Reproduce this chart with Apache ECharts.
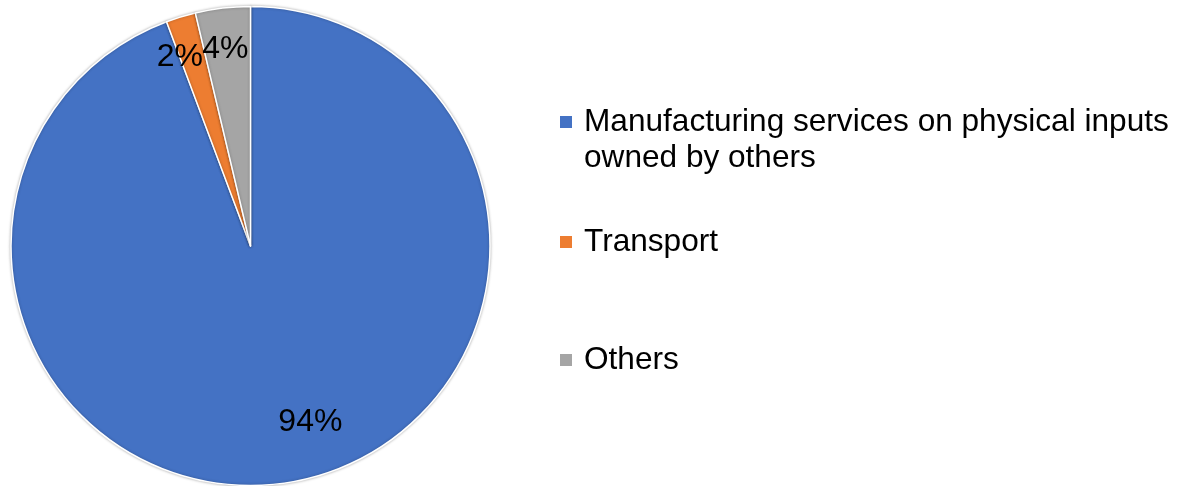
<!DOCTYPE html>
<html>
<head>
<meta charset="utf-8">
<script src="https://cdn.jsdelivr.net/npm/echarts@6/dist/echarts.min.js"></script>
<style>html,body{margin:0;padding:0;background:#fff;}#c{width:1178px;height:486px;}</style>
</head>
<body>
<div id="c"></div>
<script>
const categories = ['Manufacturing services on physical inputs owned by others', 'Transport', 'Others'];
const shares = [94.3, 2.0, 3.7];
const colors = ['#4472C4', '#ED7D31', '#A5A5A5'];
const labelShift = [[38, 55], [-35, -71], [-11, -75]];

const chart = echarts.init(document.getElementById('c'), null, {renderer: 'canvas'});
const legendTops = [68, 224, 342];
const legends = categories.map((name, i) => ({
  orient: 'vertical',
  left: 560,
  top: legendTops[i],
  padding: 0,
  itemWidth: 12,
  itemHeight: 12,
  icon: 'rect',
  itemStyle: {borderWidth: 0, shadowBlur: 0},
  data: [{name: name}],
  formatter: n => (i === 0 ? '\n' : '') + n.replace(' owned', '\nowned'),
  textStyle: {
    fontFamily: 'Liberation Sans, Arial, sans-serif',
    fontSize: 31.6,
    color: '#000',
    lineHeight: 36,
    padding: [0, 0, 0, 7]
  },
  selectedMode: false
}));

chart.setOption({
  animation: false,
  color: colors,
  legend: legends,
  series: [{
    type: 'pie',
    center: [250.5, 246],
    radius: [0, 239.5],
    startAngle: 90,
    clockwise: true,
    silent: true,
    itemStyle: {borderColor: '#fff', borderWidth: 1.5, shadowBlur: 3, shadowColor: 'rgba(0,0,0,0.3)'},
    label: {
      show: true,
      position: 'inside',
      formatter: p => Math.round(p.value) + '%',
      fontFamily: 'Liberation Sans, Arial, sans-serif',
      fontSize: 32,
      color: '#000'
    },
    labelLine: {show: false},
    labelLayout: p => ({dx: labelShift[p.dataIndex][0], dy: labelShift[p.dataIndex][1]}),
    data: categories.map((name, i) => ({name: name, value: shares[i]}))
  }]
});
</script>
</body>
</html>
